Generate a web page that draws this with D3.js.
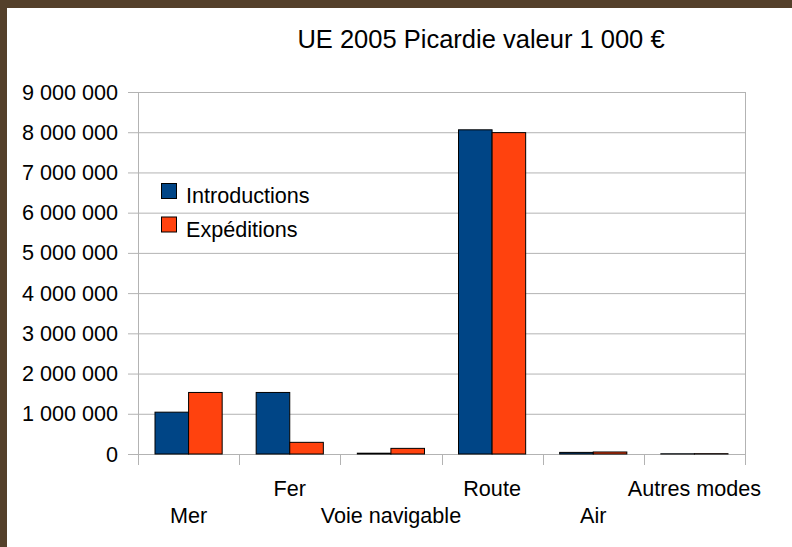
<!DOCTYPE html>
<html>
<head>
<meta charset="UTF-8">
<script src="https://d3js.org/d3.v7.min.js"></script>
<style>
body { margin:0; background:#fff; }
svg { display:block; }
</style>
</head>
<body>
<svg></svg>
<script>
// data
var categories = ["Mer", "Fer", "Voie navigable", "Route", "Air", "Autres modes"];
var introductions = [1040000, 1530000, 20000, 8060000, 40000, 5000];
var expeditions = [1530000, 290000, 140000, 7990000, 50000, 8000];
var seriesNames = ["Introductions", "Expéditions"];
var yTicks = [0, 1000000, 2000000, 3000000, 4000000, 5000000, 6000000, 7000000, 8000000, 9000000];

var width = 792, height = 547;
var colors = ["#004586", "#ff420e"];
var margin = {left: 138, right: 47, top: 92, bottom: 93};
var fontSize = "21.6px";

var svg = d3.select("svg").attr("width", width).attr("height", height);

// page frame
svg.append("rect").attr("x", 0).attr("y", 0).attr("width", width).attr("height", height).attr("fill", "#54402a");
svg.append("rect").attr("x", 7).attr("y", 8).attr("width", width - 7).attr("height", height - 8).attr("fill", "#fff");

var x = d3.scaleBand().domain(categories).range([margin.left, width - margin.right]);
var y = d3.scaleLinear().domain([0, 9000000]).range([height - margin.bottom, margin.top]);

var fmt = function(v) { return d3.format(",")(v).replace(/,/g, " "); };

svg.append("text")
  .attr("x", 481).attr("y", 48)
  .attr("text-anchor", "middle")
  .style("font-family", "Liberation Sans")
  .style("font-size", "25.5px")
  .text("UE 2005 Picardie valeur 1 000 €");

// grid
svg.append("g").selectAll("line").data(yTicks).enter().append("line")
  .attr("x1", margin.left - 10).attr("x2", width - margin.right)
  .attr("y1", d => y(d) + 0.5).attr("y2", d => y(d) + 0.5)
  .attr("stroke", "#b3b3b3").attr("stroke-width", 1);

// vertical axis lines / category ticks
var xt = categories.map((c, i) => x(c)).concat([width - margin.right]);
svg.append("g").selectAll("line").data(xt).enter().append("line")
  .attr("x1", d => Math.round(d) + 0.5).attr("x2", d => Math.round(d) + 0.5)
  .attr("y1", (d, i) => (i == 0 || i == xt.length - 1) ? margin.top : y(0))
  .attr("y2", y(0) + 11)
  .attr("stroke", "#b3b3b3").attr("stroke-width", 1);

svg.append("g").selectAll("text").data(yTicks).enter().append("text")
  .attr("x", 118).attr("y", d => y(d) + 7.5)
  .attr("text-anchor", "end")
  .style("font-family", "Liberation Sans")
  .style("font-size", fontSize)
  .text(d => fmt(d));

// bars
var pad = 17;
var bw = (x.bandwidth() - 2 * pad) / 2;
[introductions, expeditions].forEach(function(vals, s) {
  svg.append("g").selectAll("rect").data(vals).enter().append("rect")
    .attr("x", (d, i) => x(categories[i]) + pad + s * bw)
    .attr("y", d => y(d))
    .attr("width", bw)
    .attr("height", d => y(0) - y(d))
    .attr("fill", colors[s])
    .attr("stroke", "#000").attr("stroke-width", 1);
});

// category labels, staggered
svg.append("g").selectAll("text").data(categories).enter().append("text")
  .attr("x", d => x(d) + x.bandwidth() / 2)
  .attr("y", (d, i) => i % 2 ? 496 : 523)
  .attr("text-anchor", "middle")
  .style("font-family", "Liberation Sans")
  .style("font-size", fontSize)
  .text(d => d);

// legend
var leg = svg.append("g");
seriesNames.forEach(function(n, i) {
  leg.append("rect").attr("x", 161.5).attr("y", 183.5 + i * 33.5).attr("width", 15).attr("height", 15)
    .attr("fill", colors[i]).attr("stroke", "#000");
  leg.append("text").attr("x", 186).attr("y", 203 + i * 33.5)
    .style("font-family", "Liberation Sans").style("font-size", fontSize).text(n);
});
</script>
</body>
</html>
